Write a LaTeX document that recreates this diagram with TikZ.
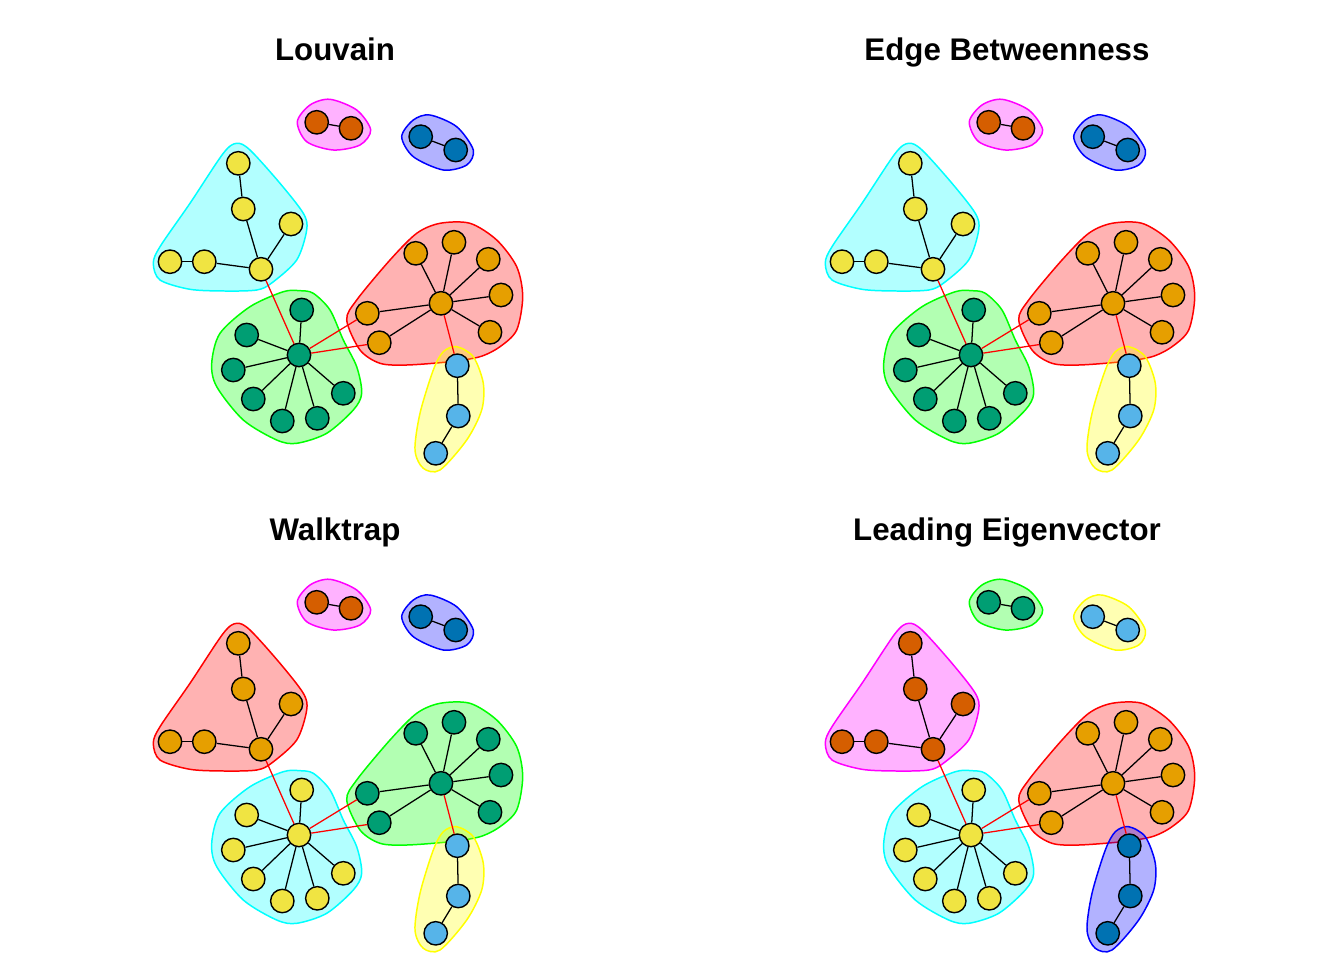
\documentclass[tikz,border=0pt]{standalone}
\usepackage{fontspec}
\newfontfamily\titlefont{Liberation Sans}
\definecolor{okY}{HTML}{F0E442}
\definecolor{okO}{HTML}{E69F00}
\definecolor{okG}{HTML}{009E73}
\definecolor{okS}{HTML}{56B4E9}
\definecolor{okV}{HTML}{D55E00}
\definecolor{okB}{HTML}{0072B2}
\definecolor{hcyan}{HTML}{00FFFF}
\definecolor{hred}{HTML}{FF0000}
\definecolor{hgreen}{HTML}{00FF00}
\definecolor{hyellow}{HTML}{FFFF00}
\definecolor{hmagenta}{HTML}{FF00FF}
\definecolor{hblue}{HTML}{0000FF}
\tikzset{
  vtx/.style={circle, draw=black, line width=0.8pt, minimum size=0.468cm, inner sep=0pt},
  edge/.style={draw=black, line width=0.72pt},
  xedge/.style={draw=red, line width=0.72pt},
  hull/.style={line width=0.85pt, fill opacity=0.3},
  ttl/.style={anchor=base, font=\titlefont\bfseries\fontsize{17.8pt}{20pt}\selectfont}
}
\newcommand\hullset{%
  \filldraw[hull, draw=hY, fill=hY] plot[smooth cycle] coordinates {(236.7,143.3) (250,150) (280,183.3) (303.3,213.3) (306.7,230) (296.7,260) (271.7,283) (256.7,290) (225,291) (190,289.3) (160,280) (153.3,263.3) (160,246.7) (190,203.3) (223.3,153.3)};
  \filldraw[hull, draw=hG, fill=hG] plot[smooth cycle] coordinates {(300,290.7) (313.3,293.3) (330,310) (343.3,340) (356.7,366.7) (361.7,393.3) (353.3,410) (326.7,433.3) (296.7,443.3) (276.7,440) (243.3,420) (216.7,386.7) (211.7,363.3) (220,333.3) (250,306.7) (283.3,291.7)};
  \filldraw[hull, draw=hO, fill=hO] plot[smooth cycle] coordinates {(440,223.3) (470,223.3) (496.7,240) (516.7,266.7) (522.7,296.7) (516.7,330) (500,346.7) (480,356.7) (450,361.7) (406.7,365) (380,363.3) (360,350) (346.7,320) (356.7,300) (390,260) (416.7,233.3)};
  \filldraw[hull, draw=hB, fill=hB] plot[smooth cycle] coordinates {(456.7,346.7) (473.3,356.7) (483.3,383.3) (481.7,410) (466.7,440) (440,470) (423.3,468.3) (415,450) (420,413.3) (433.3,370) (443.3,351.7)};
  \filldraw[hull, draw=hP, fill=hP] plot[smooth cycle] coordinates {(297.3,121.7) (310,105) (330,99.3) (356.7,110) (370.7,130) (360,145) (333.3,150) (306.7,141.7)};
  \filldraw[hull, draw=hD, fill=hD] plot[smooth cycle] coordinates {(401.7,136.7) (413.3,120) (430,115) (456.7,126.7) (473.3,150) (466.7,165) (443.3,170) (413.3,156.7)};
}
\newcommand\graphpanel[1]{%
  \hullset
  \node[vtx, fill=nY] (#1y1) at (238.3,163.3) {};
  \node[vtx, fill=nY] (#1y2) at (243.3,209) {};
  \node[vtx, fill=nY] (#1y3) at (291,224) {};
  \node[vtx, fill=nY] (#1y4) at (170,261.7) {};
  \node[vtx, fill=nY] (#1y5) at (204.3,261.7) {};
  \node[vtx, fill=nY] (#1yh) at (261,269.3) {};
  \node[vtx, fill=nG] (#1gh) at (299,355) {};
  \node[vtx, fill=nG] (#1g1) at (301.7,310) {};
  \node[vtx, fill=nG] (#1g2) at (246.7,335) {};
  \node[vtx, fill=nG] (#1g3) at (233.3,370) {};
  \node[vtx, fill=nG] (#1g4) at (253.3,399) {};
  \node[vtx, fill=nG] (#1g5) at (282.3,421) {};
  \node[vtx, fill=nG] (#1g6) at (317.3,418.3) {};
  \node[vtx, fill=nG] (#1g7) at (343.3,393.3) {};
  \node[vtx, fill=nO] (#1oh) at (441,303.3) {};
  \node[vtx, fill=nO] (#1o1) at (415.7,253.3) {};
  \node[vtx, fill=nO] (#1o2) at (454,242.3) {};
  \node[vtx, fill=nO] (#1o3) at (488.3,259.3) {};
  \node[vtx, fill=nO] (#1o4) at (501,295) {};
  \node[vtx, fill=nO] (#1o5) at (490,332.3) {};
  \node[vtx, fill=nO] (#1o6) at (367.3,313.3) {};
  \node[vtx, fill=nO] (#1o7) at (379.3,342.7) {};
  \node[vtx, fill=nB] (#1b1) at (457.3,365.7) {};
  \node[vtx, fill=nB] (#1b2) at (458.3,416) {};
  \node[vtx, fill=nB] (#1b3) at (435.7,453.3) {};
  \node[vtx, fill=nP] (#1p1) at (316.7,122.3) {};
  \node[vtx, fill=nP] (#1p2) at (351,128.3) {};
  \node[vtx, fill=nD] (#1d1) at (420.7,136.7) {};
  \node[vtx, fill=nD] (#1d2) at (455.7,150) {};
  \draw[edge] (#1y1) -- (#1y2);
  \draw[edge] (#1y2) -- (#1yh);
  \draw[edge] (#1y3) -- (#1yh);
  \draw[edge] (#1y5) -- (#1yh);
  \draw[edge] (#1y4) -- (#1y5);
  \foreach \k in {1,...,7} {\draw[edge] (#1gh) -- (#1g\k);}
  \foreach \k in {1,...,7} {\draw[edge] (#1oh) -- (#1o\k);}
  \draw[edge] (#1b1) -- (#1b2);
  \draw[edge] (#1b2) -- (#1b3);
  \draw[edge] (#1p1) -- (#1p2);
  \draw[edge] (#1d1) -- (#1d2);
  \draw[xedge] (#1yh) -- (#1gh);
  \draw[xedge] (#1gh) -- (#1o6);
  \draw[xedge] (#1gh) -- (#1o7);
  \draw[xedge] (#1oh) -- (#1b1);
}
\begin{document}
\begin{tikzpicture}[x=0.02cm, y=-0.02cm]
\useasboundingbox (0,0) rectangle (1344,960);
\fill[white] (0,0) rectangle (1344,960);
% Louvain
\begin{scope}
  \colorlet{nY}{okY}\colorlet{hY}{hcyan}
  \colorlet{nG}{okG}\colorlet{hG}{hgreen}
  \colorlet{nO}{okO}\colorlet{hO}{hred}
  \colorlet{nB}{okS}\colorlet{hB}{hyellow}
  \colorlet{nP}{okV}\colorlet{hP}{hmagenta}
  \colorlet{nD}{okB}\colorlet{hD}{hblue}
  \node[ttl] (ta) at (335,60) {Louvain};
  \graphpanel{a}
\end{scope}
% Edge Betweenness
\begin{scope}[shift={(672,0)}]
  \colorlet{nY}{okY}\colorlet{hY}{hcyan}
  \colorlet{nG}{okG}\colorlet{hG}{hgreen}
  \colorlet{nO}{okO}\colorlet{hO}{hred}
  \colorlet{nB}{okS}\colorlet{hB}{hyellow}
  \colorlet{nP}{okV}\colorlet{hP}{hmagenta}
  \colorlet{nD}{okB}\colorlet{hD}{hblue}
  \node[ttl] (tb) at (335,60) {Edge Betweenness};
  \graphpanel{b}
\end{scope}
% Walktrap
\begin{scope}[shift={(0,480)}]
  \colorlet{nY}{okO}\colorlet{hY}{hred}
  \colorlet{nG}{okY}\colorlet{hG}{hcyan}
  \colorlet{nO}{okG}\colorlet{hO}{hgreen}
  \colorlet{nB}{okS}\colorlet{hB}{hyellow}
  \colorlet{nP}{okV}\colorlet{hP}{hmagenta}
  \colorlet{nD}{okB}\colorlet{hD}{hblue}
  \node[ttl] (tc) at (335,60) {Walktrap};
  \graphpanel{c}
\end{scope}
% Leading Eigenvector
\begin{scope}[shift={(672,480)}]
  \colorlet{nY}{okV}\colorlet{hY}{hmagenta}
  \colorlet{nG}{okY}\colorlet{hG}{hcyan}
  \colorlet{nO}{okO}\colorlet{hO}{hred}
  \colorlet{nB}{okB}\colorlet{hB}{hblue}
  \colorlet{nP}{okG}\colorlet{hP}{hgreen}
  \colorlet{nD}{okS}\colorlet{hD}{hyellow}
  \node[ttl] (td) at (335,60) {Leading Eigenvector};
  \graphpanel{d}
\end{scope}
\end{tikzpicture}
\end{document}
